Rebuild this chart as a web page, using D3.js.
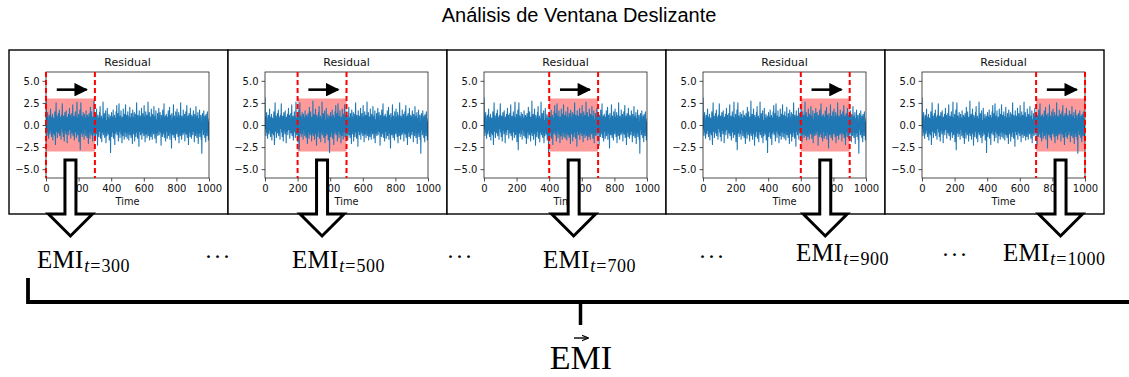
<!DOCTYPE html>
<html>
<head>
<meta charset="utf-8">
<script src="https://cdn.jsdelivr.net/npm/d3@7"></script>
<style>
  html, body { margin: 0; padding: 0; background: #fff; }
  svg { display: block; }
</style>
</head>
<body>
<svg id="chart" width="1129" height="377"></svg>
<script>
// ---- data ----
const chartTitle = "Análisis de Ventana Deslizante";
const panelTitle = "Residual";
const xLabel = "Time";
const windowStarts = [0, 200, 400, 600, 700];
const windowEnds = [300, 500, 700, 900, 1000];
const bandLimits = [-3, 3];
const xTicks = [0, 200, 400, 600, 800, 1000];
const yTicks = [-5, -2.5, 0, 2.5, 5];
const xDomain = [0, 1000];
const yDomain = [-6, 6];
const timeStep = 2;
// residual series, sampled every 2 time steps (t = 0 .. 998)
const residual = [
  3.1,-0.4,0.9,-1.2,0.3,1.4,-0.8,0.1,-1.5,0.7,1.1,-0.3,-1.0,0.5,1.8,-0.6,0.2,-1.3,0.9,-0.1,1.2,-1.7,0.4,0.8,-0.9,
  0.6,-1.1,1.5,-0.2,-2.2,0.3,2.5,-0.7,0.0,1.0,-1.4,0.6,-0.5,1.3,-0.9,0.2,1.7,-1.2,0.5,-0.3,0.9,-1.6,1.1,-0.4,0.7,
  2.4,-0.8,0.3,-1.3,1.0,-0.1,-1.8,0.8,1.4,-0.6,0.2,-1.0,1.6,-0.4,0.5,-2.0,0.9,0.1,-0.7,1.2,-1.1,0.4,1.9,-0.5,-0.2,
  1.1,-1.5,0.6,-0.3,1.3,-0.9,0.2,2.3,-1.2,0.7,-0.6,1.0,-1.7,0.4,0.0,1.5,-0.8,0.9,-1.4,0.3,2.6,-0.5,-1.1,0.8,-0.2,
  1.2,-1.9,0.5,-0.4,1.7,-2.8,0.6,2.5,-0.9,0.1,1.0,-1.3,0.7,-0.2,1.4,-1.0,0.3,-1.6,1.2,-0.5,0.8,-0.1,-1.2,1.6,-0.7,
  0.4,-1.4,1.1,-0.3,0.9,-2.1,0.2,1.3,-0.8,0.5,-1.5,2.0,-0.6,0.1,-1.1,1.5,-0.4,0.7,-1.8,0.9,0.3,-0.9,2.7,-1.2,0.6,
  -0.5,1.2,-1.6,0.4,0.0,1.8,-1.0,0.6,-2.3,1.1,-0.2,0.8,-1.3,0.3,1.4,-0.7,2.1,-1.5,0.5,-0.4,1.0,-1.9,0.7,0.2,-0.8,
  2.6,-1.1,0.4,-0.6,1.3,-1.4,0.9,-0.3,1.6,-2.0,0.5,0.1,-1.2,1.9,-0.7,0.8,-1.0,0.3,1.2,-1.7,0.6,-0.5,1.0,-3.1,0.7,
  -0.4,1.4,-1.3,0.2,0.9,-0.8,1.7,-1.5,0.5,-0.1,1.1,-2.2,0.8,0.3,-0.9,1.5,-0.6,2.2,-1.1,0.4,-0.3,1.3,-1.8,0.7,2.4,
  -0.7,0.2,-1.4,1.0,-0.5,1.6,-1.0,0.6,-2.0,0.9,0.1,-1.2,1.8,-0.3,0.5,-1.6,1.2,-0.8,0.4,2.3,-1.3,0.7,-0.2,1.1,-1.5,
  0.3,1.5,-0.9,0.6,-1.7,1.0,-0.4,2.0,-1.1,0.2,0.8,-1.4,1.3,-0.6,0.4,-2.1,1.7,-0.2,0.9,-1.0,0.5,1.4,-1.8,0.1,-0.5,
  1.2,-1.3,0.7,2.5,-0.8,0.3,-1.5,1.1,-0.1,0.6,-2.4,1.6,-0.7,0.4,1.0,-1.1,0.2,-0.4,1.9,-1.6,0.8,-0.3,1.3,-0.9,0.5,
  -1.2,2.2,-0.6,0.9,-1.9,0.4,1.5,-1.0,0.0,1.1,-1.4,0.7,-0.5,2.6,-1.2,0.3,-0.8,1.4,-1.7,0.6,0.9,-0.2,-1.3,1.8,-0.4,
  0.8,-1.6,1.2,-0.3,0.5,-1.0,2.1,-0.7,0.2,-1.5,1.0,-0.1,1.6,-2.0,0.6,0.3,-0.9,1.3,-1.2,0.7,-0.4,1.9,-1.1,0.1,-0.6,
  1.4,-0.8,0.5,-2.3,1.1,-0.2,0.8,-1.3,1.7,-0.5,0.2,-1.0,2.4,-1.4,0.6,-0.3,1.0,-1.8,0.4,1.2,-0.7,0.9,-1.5,0.3,-0.1,
  1.6,-1.2,0.7,-0.4,2.0,-1.6,0.2,1.1,-0.9,0.5,-2.6,1.3,-0.3,0.8,-1.1,0.4,2.3,-0.6,-1.4,1.0,-0.2,0.6,-1.7,1.5,-0.8,
  0.3,-1.0,1.8,-0.5,0.9,-1.3,0.1,1.4,-2.0,0.7,-0.4,1.1,-1.2,2.5,-0.7,0.2,-1.6,1.0,-0.1,0.6,-1.1,1.7,-0.9,0.4,-0.3,
  1.2,-1.8,0.5,-0.6,1.5,-1.0,0.8,2.2,-1.4,0.3,-0.2,1.0,-2.2,0.7,1.3,-0.8,0.1,-1.3,1.9,-0.5,0.6,-1.5,1.1,-0.3,0.9,
  -1.1,0.4,1.6,-0.7,0.2,-1.9,1.2,-0.4,0.8,-1.2,2.1,-0.6,0.5,-1.4,1.0,-0.1,1.4,-2.1,0.7,0.3,-0.9,1.7,-1.3,0.6,-0.2,
  1.1,-1.6,0.4,-3.2,0.9,1.3,-0.5,0.2,-1.1,1.6,-0.8,0.5,-1.4,1.0,0.0,-1.9,1.2,-0.6,0.8,-1.2,1.5,-0.3,0.7,-1.7,0.4
];

// ---- layout ----
const W = 1129, H = 377;
const panelLeft0 = 9, panelStep = 219, panelTop = 50, panelH = 164;
const plotOffX = 37, plotW = 163, plotTop = 72, plotBottom = 178;
const labelLeft = [37, 292, 543, 796, 1003];
const labelBase = [268, 268, 268, 261, 261];
const dotsX = [218, 460, 712, 955];
const dotsBase = [264, 264, 264, 262];

const svg = d3.select("#chart");
svg.append("rect").attr("width", W).attr("height", H).attr("fill", "#fff");

svg.append("text")
  .attr("x", 579).attr("y", 22)
  .attr("text-anchor", "middle")
  .attr("font-family", "Liberation Sans, Arial, sans-serif")
  .attr("font-size", 20)
  .attr("fill", "#000")
  .text(chartTitle);

const yScale = d3.scaleLinear().domain(yDomain).range([plotBottom, plotTop]);
const series = residual.map((v, i) => ({t: i * timeStep, v}));

const defs = svg.append("defs");
defs.append("clipPath").attr("id", "plotClip")
  .append("rect").attr("x", 0).attr("y", plotTop).attr("width", plotW).attr("height", plotBottom - plotTop);
defs.append("marker")
  .attr("id", "head").attr("viewBox", "0 0 10 10")
  .attr("refX", 9).attr("refY", 5)
  .attr("markerWidth", 6).attr("markerHeight", 5.2)
  .attr("markerUnits", "strokeWidth").attr("orient", "auto")
  .append("path").attr("d", "M0,0 L10,5 L0,10 Z").attr("fill", "#000");

const font = "DejaVu Sans, sans-serif";
const arrowCenters = [];

windowStarts.forEach((start, i) => {
  const end = windowEnds[i];
  const left = panelLeft0 + i * panelStep;
  const g = svg.append("g");
  g.append("rect")
    .attr("x", left).attr("y", panelTop)
    .attr("width", panelStep).attr("height", panelH)
    .attr("fill", "#fff").attr("stroke", "#000").attr("stroke-width", 1.4);

  const px = left + plotOffX;
  const x = d3.scaleLinear().domain(xDomain).range([0, plotW]);
  const p = g.append("g").attr("transform", `translate(${px},0)`);

  p.append("text")
    .attr("x", plotW / 2).attr("y", 66)
    .attr("text-anchor", "middle")
    .attr("font-family", font).attr("font-size", 11)
    .attr("fill", "#111")
    .text(panelTitle);

  // highlighted window band
  p.append("rect")
    .attr("x", x(start)).attr("width", x(end) - x(start))
    .attr("y", yScale(bandLimits[1])).attr("height", yScale(bandLimits[0]) - yScale(bandLimits[1]))
    .attr("fill", "#ff9a9a");

  const line = d3.line().x(d => x(d.t)).y(d => yScale(d.v));
  p.append("path")
    .datum(series)
    .attr("clip-path", "url(#plotClip)")
    .attr("d", line)
    .attr("fill", "none")
    .attr("stroke", "#1f77b4")
    .attr("stroke-width", 1.1)
    .attr("stroke-linejoin", "round");

  // axes
  const yAxis = d3.axisLeft(yScale).tickValues(yTicks).tickFormat(d3.format(".1f")).tickSize(3.5).tickPadding(3);
  const xAxis = d3.axisBottom(x).tickValues(xTicks).tickFormat(d3.format("d")).tickSize(3.5).tickPadding(3);
  const ya = p.append("g").call(yAxis);
  const xa = p.append("g").attr("transform", `translate(0,${plotBottom})`).call(xAxis);
  [ya, xa].forEach(a => {
    a.select(".domain").remove();
    a.selectAll("text").attr("font-family", font).attr("font-size", 10).attr("fill", "#111");
    a.selectAll("line").attr("stroke", "#222").attr("stroke-width", 0.8);
  });
  p.append("rect")
    .attr("x", 0).attr("y", plotTop)
    .attr("width", plotW).attr("height", plotBottom - plotTop)
    .attr("fill", "none").attr("stroke", "#222").attr("stroke-width", 0.8);

  p.append("text")
    .attr("x", plotW / 2).attr("y", 205)
    .attr("text-anchor", "middle")
    .attr("font-family", font).attr("font-size", 9.8)
    .attr("fill", "#111")
    .text(xLabel);

  // window boundaries
  [start, end].forEach(t => {
    p.append("line")
      .attr("x1", x(t)).attr("x2", x(t))
      .attr("y1", plotTop).attr("y2", plotBottom)
      .attr("stroke", "#ff0000").attr("stroke-width", 2)
      .attr("stroke-dasharray", "5,3");
  });

  // sliding direction arrow
  const len = end - start;
  p.append("line")
    .attr("x1", x(start + len * 0.22)).attr("x2", x(start + len * 0.83))
    .attr("y1", yScale(4)).attr("y2", yScale(4))
    .attr("stroke", "#000").attr("stroke-width", 2.6)
    .attr("marker-end", "url(#head)");

  arrowCenters.push(px + x((start + end) / 2));
});

// hollow arrows pointing down to each window's EMI
arrowCenters.forEach(cx => {
  const sw = 5.5, hw = 22, top = 160, shoulder = 214, tip = 236;
  const d = `M${cx - sw},${top} L${cx + sw},${top} L${cx + sw},${shoulder} L${cx + hw},${shoulder} ` +
            `L${cx},${tip} L${cx - hw},${shoulder} L${cx - sw},${shoulder} Z`;
  svg.append("path").attr("d", d)
    .attr("fill", "#fff").attr("stroke", "#000")
    .attr("stroke-width", 3).attr("stroke-linejoin", "miter");
});

// EMI_t labels
const serif = "Liberation Serif, Times New Roman, serif";
windowEnds.forEach((t, i) => {
  const txt = svg.append("text")
    .attr("x", labelLeft[i]).attr("y", labelBase[i])
    .attr("font-family", serif).attr("fill", "#000");
  txt.append("tspan").attr("font-size", 25).attr("letter-spacing", 0.3).text("EMI");
  txt.append("tspan").attr("font-size", 18).attr("dy", 4).attr("dx", 0.5)
    .attr("font-style", "italic").text("t");
  txt.append("tspan").attr("font-size", 18).attr("dx", 1).text("=");
  txt.append("tspan").attr("font-size", 18).attr("dx", 1).attr("letter-spacing", 0.5).text(String(t));
});

dotsX.forEach((dx, i) => {
  svg.append("text")
    .attr("x", dx).attr("y", dotsBase[i])
    .attr("text-anchor", "middle")
    .attr("font-family", serif).attr("font-size", 24)
    .attr("letter-spacing", 1)
    .text("\u00B7\u00B7\u00B7");
});

// bracket collecting all EMI values
svg.append("path")
  .attr("d", `M28,278 V302 H${W + 2}`)
  .attr("fill", "none").attr("stroke", "#000").attr("stroke-width", 3.8)
  .attr("stroke-linejoin", "miter");
svg.append("line")
  .attr("x1", 580.5).attr("x2", 580.5).attr("y1", 302).attr("y2", 325)
  .attr("stroke", "#000").attr("stroke-width", 3.5);

svg.append("text")
  .attr("x", 581).attr("y", 369)
  .attr("text-anchor", "middle")
  .attr("font-family", serif).attr("font-size", 34)
  .text("EMI");
svg.append("defs").append("marker")
  .attr("id", "vecHead").attr("viewBox", "0 0 10 10")
  .attr("refX", 9).attr("refY", 5)
  .attr("markerWidth", 7).attr("markerHeight", 7)
  .attr("markerUnits", "userSpaceOnUse").attr("orient", "auto")
  .append("path").attr("d", "M0,1 L10,5 L0,9").attr("fill", "none").attr("stroke", "#000").attr("stroke-width", 1.6);
svg.append("line")
  .attr("x1", 574).attr("x2", 588).attr("y1", 338).attr("y2", 338)
  .attr("stroke", "#000").attr("stroke-width", 1.4)
  .attr("marker-end", "url(#vecHead)");
</script>
</body>
</html>
